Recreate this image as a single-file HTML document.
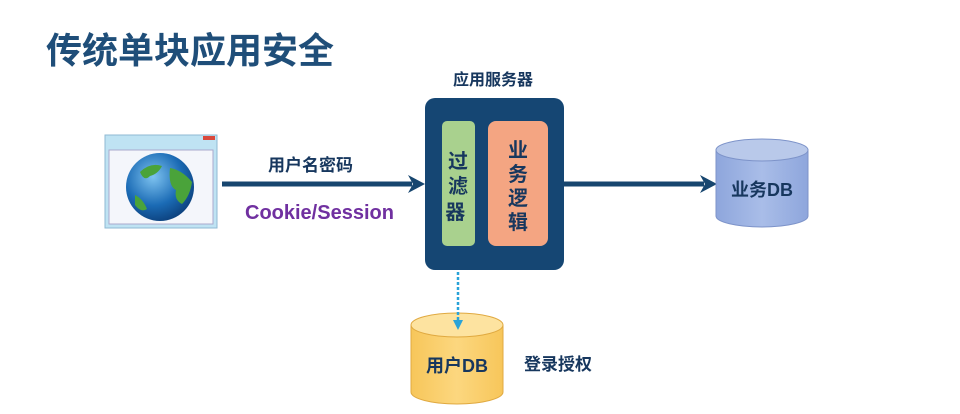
<!DOCTYPE html>
<html><head><meta charset="utf-8"><style>
body{margin:0;width:960px;height:414px;background:#fff;overflow:hidden;font-family:"Liberation Sans","Noto Sans CJK SC",sans-serif;}
.t{position:absolute;font-weight:bold;white-space:nowrap;}
</style></head><body>
<div class="t" style="left:46px;top:22px;font-size:36px;color:#1f4e79;">传统单块应用安全</div>
<div class="t" style="left:453px;top:66px;font-size:16px;color:#17375e;">应用服务器</div>
<div class="t" style="left:268px;top:151px;font-size:17px;color:#17375e;">用户名密码</div>
<div class="t" style="left:245px;top:202px;font-size:20px;color:#7030a0;">Cookie/Session</div>
<div class="t" style="left:524px;top:350px;font-size:17px;color:#17375e;">登录授权</div>
<svg width="960" height="414" style="position:absolute;left:0;top:0">
<defs>
<linearGradient id="b" x1="0" x2="1"><stop offset="0" stop-color="#8ea6dc"/><stop offset="0.5" stop-color="#a9bde8"/><stop offset="1" stop-color="#8ea6dc"/></linearGradient>
<linearGradient id="y" x1="0" x2="1"><stop offset="0" stop-color="#f7c65a"/><stop offset="0.5" stop-color="#fcd77f"/><stop offset="1" stop-color="#f7c65a"/></linearGradient>
<radialGradient id="g" cx="0.4" cy="0.35" r="0.7"><stop offset="0" stop-color="#7ec3f0"/><stop offset="0.6" stop-color="#1b6bb5"/><stop offset="1" stop-color="#0b3e7a"/></radialGradient>
</defs>
<!-- browser -->
<rect x="105" y="135" width="112" height="93" fill="#bfe3f3" stroke="#8fb9d3"/>
<rect x="109" y="150" width="104" height="74" fill="#f4f6fb" stroke="#aac"/>
<rect x="203" y="136" width="12" height="4" fill="#d9483b"/>
<circle cx="160" cy="187" r="34" fill="url(#g)"/>
<path d="M140 172 q10-10 22-6 q-4 8-12 10 q-6 6-10-4z M170 168 q12 2 22 14 q-2 14-10 22 q-8-4-6-14 q-8-4-6-22z M135 195 q8 4 12 14 q-6 4-12-4z" fill="#4aa33a"/>
<!-- arrows -->
<line x1="222" y1="184" x2="412" y2="184" stroke="#17466f" stroke-width="5"/>
<path d="M408 175 L425 184 L408 193 L413 184z" fill="#17466f"/>
<line x1="563" y1="184" x2="704" y2="184" stroke="#17466f" stroke-width="5"/>
<path d="M700 175 L717 184 L700 193 L705 184z" fill="#17466f"/>
<!-- server -->
<rect x="425" y="98" width="139" height="172" rx="10" fill="#154673"/>
<rect x="442" y="121" width="33" height="125" rx="5" fill="#a9d18e"/>
<rect x="488" y="121" width="60" height="125" rx="8" fill="#f4a582"/>
<text font-family="Liberation Sans,Noto Sans CJK SC,sans-serif" font-weight="bold" font-size="20" fill="#17375e" text-anchor="middle">
<tspan x="458" y="168">过</tspan><tspan x="458" y="193">滤</tspan><tspan x="458" y="219">器</tspan>
<tspan x="518" y="157">业</tspan><tspan x="518" y="181">务</tspan><tspan x="518" y="205">逻</tspan><tspan x="518" y="229">辑</tspan>
</text>
<!-- business DB -->
<path d="M716 150 v66 a46 11 0 0 0 92 0 v-66z" fill="url(#b)" stroke="#7d93c9"/>
<ellipse cx="762" cy="150" rx="46" ry="11" fill="#b9c9ea" stroke="#7d93c9"/>
<text x="762" y="196" font-family="Liberation Sans,Noto Sans CJK SC,sans-serif" font-weight="bold" font-size="18" fill="#17375e" text-anchor="middle">业务DB</text>
<!-- user DB -->
<path d="M411 325 v67 a46 12 0 0 0 92 0 v-67z" fill="url(#y)" stroke="#e0a940"/>
<ellipse cx="457" cy="325" rx="46" ry="12" fill="#fde3a0" stroke="#e0a940"/>
<text x="457" y="372" font-family="Liberation Sans,Noto Sans CJK SC,sans-serif" font-weight="bold" font-size="18" fill="#17375e" text-anchor="middle">用户DB</text>
<line x1="458" y1="272" x2="458" y2="322" stroke="#2aa3d8" stroke-width="2.5" stroke-dasharray="3,2"/>
<path d="M453 320 L458 330 L463 320z" fill="#2aa3d8"/>
</svg>
</body></html>
